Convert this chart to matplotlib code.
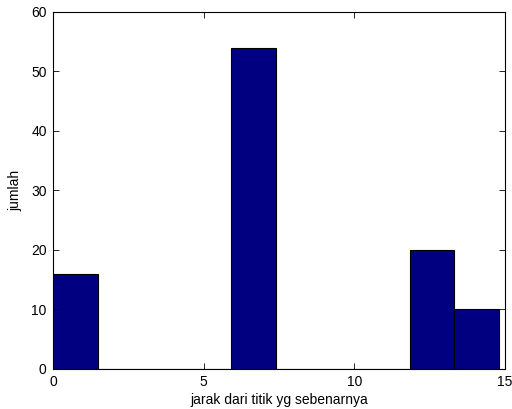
import numpy as np
import matplotlib
matplotlib.use("Agg")
import matplotlib.pyplot as plt

# histogram (10 bins, MATLAB hist style)
bin_edges = np.linspace(0, 14.81, 11)
counts = [16, 0, 0, 0, 54, 0, 0, 0, 20, 10]

xticks = [0, 5, 10, 15]
yticks = [0, 10, 20, 30, 40, 50, 60]

plt.rcParams["font.family"] = ["Liberation Sans", "DejaVu Sans"]
plt.rcParams["font.size"] = 10

fig = plt.figure(figsize=(5.12, 4.09), dpi=100)
ax = fig.add_axes([0.1035, 0.0978, 0.8825, 0.8729])

ax.bar(bin_edges[:-1], counts, width=np.diff(bin_edges), align="edge",
       color="#000080", edgecolor="black", linewidth=0.8)

ax.set_xlim(0, 15)
ax.set_ylim(0, 60)
ax.set_xticks(xticks)
ax.set_yticks(yticks)
ax.tick_params(direction="in", top=True, right=True, length=4, width=0.6, pad=4.5)
for s in ax.spines.values():
    s.set_linewidth(0.8)

ax.set_xlabel("jarak dari titik yg sebenarnya", labelpad=3)
ax.set_ylabel("jumlah", labelpad=6)

fig.savefig("out.png", dpi=100)
